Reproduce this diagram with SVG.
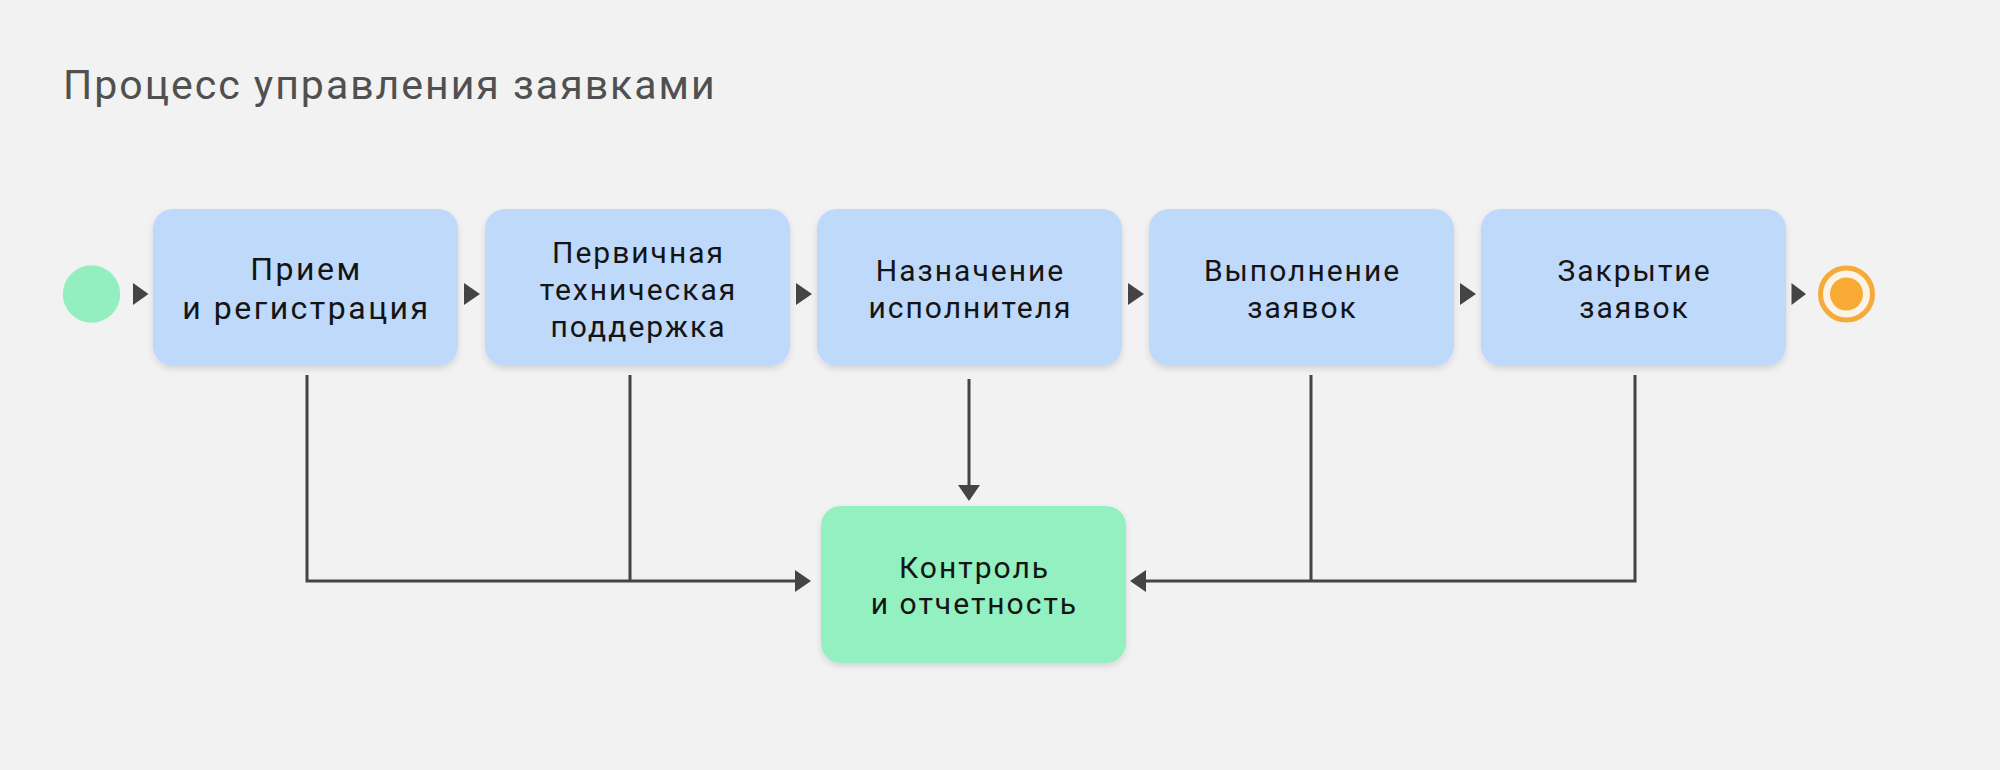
<svg xmlns="http://www.w3.org/2000/svg" width="2000" height="770" viewBox="0 0 2000 770">
  <defs>
    <style>
      .title { font-family: Roboto, "Liberation Sans", sans-serif; font-size: 41px; fill: #505050; letter-spacing: 2px; }
      .lbl { font-family: Roboto, "Liberation Sans", sans-serif; font-size: 30px; fill: #141414; text-anchor: middle; letter-spacing: 2px; }
      .lbl-big { font-size: 32px; letter-spacing: 2.5px; }
      .task { fill: #BFD9FB; filter: url(#sh); }
      .ctrl { fill: #93F0C0; filter: url(#sh); }
      .wire { fill: none; stroke: #444444; stroke-width: 3; }
      .head { fill: #444444; }
    </style>
    <filter id="sh" x="-10%" y="-10%" width="120%" height="130%">
      <feDropShadow dx="0" dy="3" stdDeviation="3" flood-color="#000000" flood-opacity="0.12"/>
    </filter>
    <marker id="ah" markerUnits="userSpaceOnUse" markerWidth="16" markerHeight="22" refX="0" refY="11" orient="auto" viewBox="0 0 16 22">
      <path d="M0,0 L16,11 L0,22 Z" fill="#444444"/>
    </marker>
  </defs>
  <rect x="0" y="0" width="2000" height="770" fill="#F2F2F2"/>

  <text class="title" x="63" y="99">Процесс управления заявками</text>

  <g id="start">
    <circle cx="91.5" cy="294" r="28.7" fill="#93EFC0"/>
  </g>

  <g id="n1">
    <rect class="task" x="153" y="209" width="305" height="157" rx="20"/>
    <text class="lbl lbl-big" x="306.5" y="280">Прием</text>
    <text class="lbl lbl-big" x="306.5" y="319">и регистрация</text>
  </g>
  <g id="n2">
    <rect class="task" x="485" y="209" width="305" height="157" rx="20"/>
    <text class="lbl" x="638.5" y="263">Первичная</text>
    <text class="lbl" x="638.5" y="300">техническая</text>
    <text class="lbl" x="638.5" y="337">поддержка</text>
  </g>
  <g id="n3">
    <rect class="task" x="817" y="209" width="305" height="157" rx="20"/>
    <text class="lbl" x="970.5" y="281">Назначение</text>
    <text class="lbl" x="970.5" y="318">исполнителя</text>
  </g>
  <g id="n4">
    <rect class="task" x="1149" y="209" width="305" height="157" rx="20"/>
    <text class="lbl" x="1302.5" y="281">Выполнение</text>
    <text class="lbl" x="1302.5" y="318">заявок</text>
  </g>
  <g id="n5">
    <rect class="task" x="1481" y="209" width="305" height="157" rx="20"/>
    <text class="lbl" x="1634.5" y="281">Закрытие</text>
    <text class="lbl" x="1634.5" y="318">заявок</text>
  </g>

  <g id="end">
    <circle cx="1846.5" cy="294" r="26" fill="#FBF3E6" stroke="#F5AA3C" stroke-width="5"/>
    <circle cx="1846.5" cy="294" r="16.5" fill="#F7AA34"/>
  </g>

  <g id="ctrl">
    <rect class="ctrl" x="821" y="506" width="305" height="157" rx="20"/>
    <text class="lbl" x="974.5" y="578">Контроль</text>
    <text class="lbl" x="974.5" y="614">и отчетность</text>
  </g>

  <g id="connectors">
    <polygon class="head" points="133,283 148.5,294 133,305"/>
    <polygon class="head" points="464,283 480,294 464,305"/>
    <polygon class="head" points="796,283 812,294 796,305"/>
    <polygon class="head" points="1128,283 1144,294 1128,305"/>
    <polygon class="head" points="1460,283 1476,294 1460,305"/>
    <polygon class="head" points="1791.5,283 1806,294 1791.5,305"/>

    <path class="wire" d="M307,375 V581 H795" marker-end="url(#ah)"/>
    <path class="wire" d="M630,375 V581"/>
    <path class="wire" d="M969,379 V485" marker-end="url(#ah)"/>
    <path class="wire" d="M1635,375 V581 H1146" marker-end="url(#ah)"/>
    <path class="wire" d="M1311,375 V581"/>
  </g>
</svg>
